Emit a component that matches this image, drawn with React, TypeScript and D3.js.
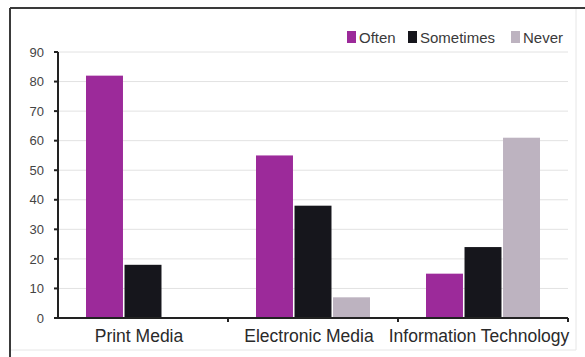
import React from "react";
import * as d3 from "d3";

const categories = ["Print Media", "Electronic Media", "Information Technology"];
const seriesNames = ["Often", "Sometimes", "Never"];
const often = [82, 55, 15];
const sometimes = [18, 38, 24];
const never = [0, 7, 61];
const yTicks = [0, 10, 20, 30, 40, 50, 60, 70, 80, 90];
const colors = ["#9c2a9a", "#16161c", "#bdb3c0"];

const W = 585;
const H = 357;
const margin = { left: 58, right: 17, top: 52, bottom: 39 };

export default function App() {
  const series = [often, sometimes, never];
  const x = d3
    .scaleBand<string>()
    .domain(categories)
    .range([margin.left, W - margin.right])
    .paddingInner(0)
    .paddingOuter(0);
  const inner = d3
    .scaleBand<string>()
    .domain(seriesNames)
    .range([28, x.bandwidth() - 28])
    .paddingInner(0.04);
  const y = d3.scaleLinear().domain([0, 90]).range([H - margin.bottom, margin.top]);
  const font = "Liberation Sans, Arial, sans-serif";
  const x0 = margin.left;
  const x1 = W - margin.right;

  return (
    <svg
      width={W}
      height={H}
      style={{ position: "absolute", left: 0, top: 0, background: "#fff" }}
      fontFamily={font}
    >
      {/* frame */}
      <line x1={10} y1={8} x2={W} y2={8} stroke="#3a3a3a" strokeWidth={2} />
      <line x1={10} y1={8} x2={10} y2={H} stroke="#3a3a3a" strokeWidth={2} />
      <line x1={576} y1={9} x2={576} y2={350} stroke="#e6e6e6" strokeWidth={1} />
      <line x1={11} y1={350} x2={576} y2={350} stroke="#e6e6e6" strokeWidth={1} />

      {/* gridlines */}
      {yTicks.slice(1).map((t) => (
        <line key={t} x1={x0} x2={x1} y1={y(t)} y2={y(t)} stroke="#e2e2e2" strokeWidth={1} />
      ))}

      {/* bars */}
      {categories.map((c, ci) => (
        <g key={c} transform={`translate(${x(c)},0)`}>
          {seriesNames.map((s, si) => {
            const v = series[si][ci];
            if (!v) return null;
            return (
              <rect
                key={s}
                x={inner(s)}
                y={y(v)}
                width={inner.bandwidth()}
                height={y(0) - y(v)}
                fill={colors[si]}
              />
            );
          })}
        </g>
      ))}

      {/* y axis */}
      <line x1={x0} x2={x0} y1={y(90)} y2={y(0)} stroke="#222" strokeWidth={2} />
      {yTicks.map((t) => (
        <g key={t}>
          <line x1={x0 - 4} x2={x0} y1={y(t)} y2={y(t)} stroke="#222" strokeWidth={2} />
          <text
            x={44}
            y={y(t)}
            dy="0.36em"
            textAnchor="end"
            fontSize={13}
            fill="#444"
          >
            {t}
          </text>
        </g>
      ))}

      {/* x axis */}
      <line x1={x0} x2={x1} y1={y(0)} y2={y(0)} stroke="#222" strokeWidth={2} />
      {categories.map((c, i) => (
        <g key={c}>
          {i > 0 && (
            <line x1={x(c)} x2={x(c)} y1={y(0)} y2={y(0) + 4} stroke="#222" strokeWidth={2} />
          )}
          <text
            x={(x(c) as number) + x.bandwidth() / 2 - 4}
            y={342}
            textAnchor="middle"
            fontSize={17.5}
            fill="#2a2a2a"
          >
            {c}
          </text>
        </g>
      ))}
      <line x1={x1} x2={x1} y1={y(0)} y2={y(0) + 4} stroke="#222" strokeWidth={2} />

      {/* legend */}
      {[
        { name: seriesNames[0], sx: 347, tx: 359 },
        { name: seriesNames[1], sx: 408, tx: 420 },
        { name: seriesNames[2], sx: 511, tx: 523 },
      ].map((l, i) => (
        <g key={l.name}>
          <rect x={l.sx} y={31} width={9} height={12} fill={colors[i]} />
          <text x={l.tx} y={42.5} fontSize={15} fill="#3a3a3a">
            {l.name}
          </text>
        </g>
      ))}
    </svg>
  );
}
